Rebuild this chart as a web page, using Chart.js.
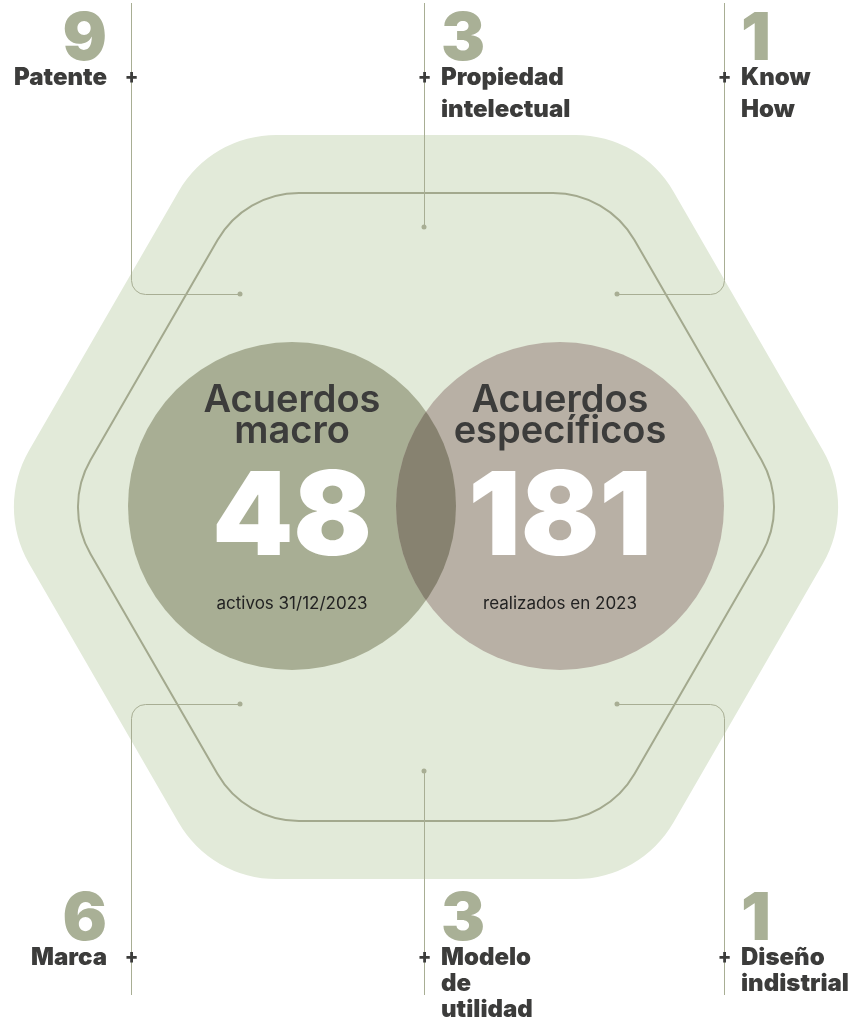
<!DOCTYPE html>
<html>
<head>
<meta charset="utf-8">
<script src="https://cdn.jsdelivr.net/npm/chart.js@4.4.0/dist/chart.umd.min.js"></script>
<style>
  html, body { margin: 0; padding: 0; background: #ffffff; }
  #wrap { width: 853px; height: 1023px; position: relative; }
</style>
</head>
<body>
<div id="wrap"><canvas id="acuerdosChart"></canvas></div>
<script>
// datos
var tipoNombres = [["Patente"], ["Propiedad", "intelectual"], ["Know", "How"], ["Marca"], ["Modelo", "de", "utilidad"], ["Diseño", "indistrial"]];
var tipoValores = [9, 3, 1, 6, 3, 1];
var acuerdoTitulos = [["Acuerdos", "macro"], ["Acuerdos", "específicos"]];
var acuerdoValores = [48, 181];
var acuerdoNotas = ["activos 31/12/2023", "realizados en 2023"];

// disposicion (en unidades de los ejes, 1 unidad = 1 px)
var hexCentro = {x: 426, y: 507};
var hexExterior = {R: 429.6, r: 113};
var hexInterior = {R: 362.6, r: 94};
var circulos = [{x: 292, y: 506, r: 164}, {x: 560, y: 506, r: 164}];
var llamadas = [
    {lineaX: 131, lado: "arriba", fin: {x: 240, y: 294}, texto: "der"},
    {lineaX: 424, lado: "arriba", fin: {x: 424, y: 227}, texto: "izq"},
    {lineaX: 724, lado: "arriba", fin: {x: 617, y: 294}, texto: "izq"},
    {lineaX: 131, lado: "abajo", fin: {x: 240, y: 704}, texto: "der"},
    {lineaX: 424, lado: "abajo", fin: {x: 424, y: 771}, texto: "izq"},
    {lineaX: 724, lado: "abajo", fin: {x: 617, y: 704}, texto: "izq"}
];

var verde = "#a8ae94";
var fondo = "#e2ead9";
var oscuro = "#3c3c3b";
var fuente = "Inter, 'Open Sans', sans-serif";

function hexagono(ctx, sx, sy, cx, cy, R, r) {
    var v = [];
    for (var k = 0; k < 6; k++) {
        var a = k * Math.PI / 3;
        v.push([sx(cx + R * Math.cos(a)), sy(cy + R * Math.sin(a))]);
    }
    var rr = sx(cx + r) - sx(cx);
    ctx.beginPath();
    ctx.moveTo((v[0][0] + v[1][0]) / 2, (v[0][1] + v[1][1]) / 2);
    for (var i = 1; i <= 6; i++) {
        var p = v[i % 6], q = v[(i + 1) % 6];
        ctx.arcTo(p[0], p[1], q[0], q[1], rr);
    }
    ctx.closePath();
}

var dibujoFondo = {
    id: "dibujoFondo",
    beforeDatasetsDraw: function(chart) {
        var ctx = chart.ctx;
        var sx = function(v) { return chart.scales.x.getPixelForValue(v); };
        var sy = function(v) { return chart.scales.y.getPixelForValue(v); };
        ctx.save();
        hexagono(ctx, sx, sy, hexCentro.x, hexCentro.y, hexExterior.R, hexExterior.r);
        ctx.fillStyle = fondo;
        ctx.fill();
        hexagono(ctx, sx, sy, hexCentro.x, hexCentro.y, hexInterior.R, hexInterior.r);
        ctx.strokeStyle = "#a3a98e";
        ctx.lineWidth = 2;
        ctx.stroke();

        // lineas de llamada
        ctx.strokeStyle = verde;
        ctx.lineWidth = 1;
        llamadas.forEach(function(l) {
            var y0 = l.lado == "arriba" ? 3 : 995;
            ctx.beginPath();
            ctx.moveTo(sx(l.lineaX) + 0.5, sy(y0));
            if (l.fin.x == l.lineaX) {
                ctx.lineTo(sx(l.lineaX) + 0.5, sy(l.fin.y));
            } else {
                ctx.arcTo(sx(l.lineaX) + 0.5, sy(l.fin.y) + 0.5, sx(l.fin.x), sy(l.fin.y) + 0.5, 14);
                ctx.lineTo(sx(l.fin.x), sy(l.fin.y) + 0.5);
            }
            ctx.stroke();
        });
        ctx.restore();
    },
    afterDatasetsDraw: function(chart) {
        var ctx = chart.ctx;
        var sx = function(v) { return chart.scales.x.getPixelForValue(v); };
        var sy = function(v) { return chart.scales.y.getPixelForValue(v); };
        ctx.save();
        // interseccion de los circulos
        var a = circulos[0], b = circulos[1];
        ctx.beginPath();
        ctx.arc(sx(a.x), sy(a.y), a.r, 0, Math.PI * 2);
        ctx.clip();
        ctx.beginPath();
        ctx.arc(sx(b.x), sy(b.y), b.r, 0, Math.PI * 2);
        ctx.fillStyle = "#878270";
        ctx.fill();
        ctx.restore();

        ctx.save();
        ctx.textAlign = "center";
        ctx.textBaseline = "alphabetic";
        for (var i = 0; i < 2; i++) {
            var c = circulos[i];
            ctx.fillStyle = oscuro;
            ctx.font = "600 38px " + fuente;
            ctx.fillText(acuerdoTitulos[i][0], sx(c.x), sy(412));
            ctx.fillText(acuerdoTitulos[i][1], sx(c.x), sy(443));
            ctx.fillStyle = "#ffffff";
            ctx.font = "900 116px " + fuente;
            ctx.fillText(String(acuerdoValores[i]), sx(c.x), sy(555));
            ctx.fillStyle = "#222222";
            ctx.font = "400 17px " + fuente;
            ctx.fillText(acuerdoNotas[i], sx(c.x), sy(609));
        }

        // etiquetas de las llamadas
        llamadas.forEach(function(l, k) {
            var arriba = l.lado == "arriba";
            var tx = l.texto == "der" ? l.lineaX - 24 : l.lineaX + 17;
            ctx.textAlign = l.texto == "der" ? "right" : "left";
            ctx.fillStyle = "#a9b096";
            ctx.font = "900 66px " + fuente;
            ctx.textBaseline = "alphabetic";
            ctx.fillText(String(tipoValores[k]), sx(tx), sy(arriba ? 60 : 940));
            ctx.fillStyle = oscuro;
            ctx.font = "900 24px " + fuente;
            ctx.textBaseline = "middle";
            var paso = arriba ? 32 : 26;
            var y1 = arriba ? 78 : 958;
            tipoNombres[k].forEach(function(t, j) {
                ctx.fillText(t, sx(tx), sy(y1 + j * paso));
            });
            ctx.textAlign = "center";
            ctx.font = "800 20px " + fuente;
            ctx.fillText("+", sx(l.lineaX) + 0.5, sy(y1 - 1));
        });
        ctx.restore();
    }
};

var chart = new Chart(document.getElementById("acuerdosChart"), {
    type: "bubble",
    data: {
        datasets: [{
            label: "puntos",
            data: llamadas.map(function(l) { return {x: l.fin.x, y: l.fin.y, r: 2.5}; }),
            backgroundColor: verde,
            borderWidth: 0
        }, {
            label: "acuerdos",
            data: circulos.map(function(c, i) { return {x: c.x, y: c.y, r: c.r, v: acuerdoValores[i]}; }),
            backgroundColor: ["#a8ae94", "#b8b0a5"],
            borderWidth: 0
        }]
    },
    options: {
        responsive: true,
        maintainAspectRatio: false,
        animation: false,
        events: [],
        layout: {padding: 0, autoPadding: false},
        plugins: {legend: {display: false}, tooltip: {enabled: false}},
        scales: {
            x: {type: "linear", min: 0, max: 853, display: false},
            y: {type: "linear", min: 0, max: 1023, reverse: true, display: false}
        }
    },
    plugins: [dibujoFondo]
});
</script>
</body>
</html>
